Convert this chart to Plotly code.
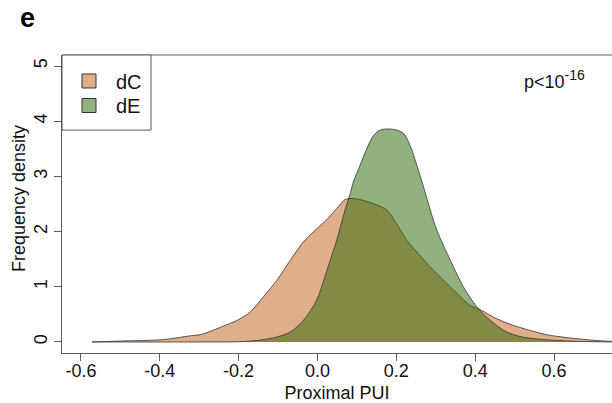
import plotly.graph_objects as go

# ---- data ----
dc_x = [-0.572, -0.483, -0.424, -0.382, -0.314, -0.297, -0.255, -0.238, -0.204, -0.171,
        -0.137, -0.103, -0.069, -0.036, -0.002, 0.024, 0.049, 0.070, 0.085, 0.108,
        0.151, 0.176, 0.201, 0.227, 0.252, 0.286, 0.320, 0.354, 0.387, 0.408,
        0.455, 0.497, 0.539, 0.582, 0.632, 0.700, 0.747]
dc_y = [0.0, 0.02, 0.03, 0.05, 0.12, 0.13, 0.24, 0.29, 0.39, 0.54,
        0.82, 1.12, 1.48, 1.81, 2.05, 2.22, 2.42, 2.58, 2.60, 2.58,
        2.48, 2.39, 2.14, 1.84, 1.63, 1.36, 1.12, 0.88, 0.66, 0.60,
        0.42, 0.30, 0.21, 0.13, 0.08, 0.03, 0.01]

de_x = [-0.572, -0.300, -0.196, -0.150, -0.103, -0.069, -0.036, -0.002, 0.024, 0.049,
        0.070, 0.083, 0.091, 0.108, 0.125, 0.142, 0.159, 0.180, 0.201, 0.218,
        0.235, 0.252, 0.269, 0.286, 0.303, 0.337, 0.370, 0.408, 0.438, 0.480,
        0.520, 0.580, 0.666, 0.747]
de_y = [0.0, 0.0, 0.005, 0.03, 0.09, 0.18, 0.39, 0.76, 1.30, 1.85,
        2.39, 2.69, 2.90, 3.20, 3.50, 3.74, 3.84, 3.86, 3.84, 3.78,
        3.56, 3.20, 2.81, 2.39, 2.02, 1.48, 1.00, 0.60, 0.39, 0.18,
        0.09, 0.04, 0.01, 0.0]

series_names = ["dC", "dE"]
x_ticks = [-0.6, -0.4, -0.2, 0.0, 0.2, 0.4, 0.6]
x_tick_labels = ["-0.6", "-0.4", "-0.2", "0.0", "0.2", "0.4", "0.6"]
y_ticks = [0, 1, 2, 3, 4, 5]
y_tick_labels = ["0", "1", "2", "3", "4", "5"]

# ---- styles ----
FONT = "Liberation Sans, Arial, Helvetica, sans-serif"
dc_fill = "rgba(195,93,25,0.5)"
de_fill = "rgba(35,101,0,0.5)"
edge = "#333333"
axis_col = "#5a5a5a"
txt = "#111111"

fig = go.Figure()
fig.add_trace(go.Scatter(x=dc_x, y=dc_y, mode="lines", fill="tozeroy",
                         fillcolor=dc_fill, line=dict(color=edge, width=0.8, shape="spline", smoothing=0.8),
                         showlegend=False, hoverinfo="skip"))
fig.add_trace(go.Scatter(x=de_x, y=de_y, mode="lines", fill="tozeroy",
                         fillcolor=de_fill, line=dict(color=edge, width=0.8, shape="spline", smoothing=0.8),
                         showlegend=False, hoverinfo="skip"))
# legend entries (one legend per entry so the spacing can match)
legend_ids = ["legend", "legend2"]
for name, col, lg in zip(series_names, [dc_fill, de_fill], legend_ids):
    fig.add_trace(go.Scatter(x=[None], y=[None], mode="markers", name=name, legend=lg,
                             marker=dict(symbol="square", size=14, color=col,
                                         line=dict(color=edge, width=1))))

leg_common = dict(xanchor="left", yanchor="middle", xref="paper", yref="paper",
                  borderwidth=0, bgcolor="rgba(0,0,0,0)",
                  font=dict(size=20, family=FONT, color=txt), itemwidth=44)

fig.update_layout(
    width=612, height=403,
    margin=dict(l=62, r=0, t=55, b=50),
    paper_bgcolor="white", plot_bgcolor="white",
    font=dict(family=FONT, size=18, color=txt),
    showlegend=True,
    legend=dict(x=0, y=0.9128, **leg_common),
    legend2=dict(x=0, y=0.8305, **leg_common),
    xaxis=dict(range=[-0.648, 0.747], tickvals=x_ticks, ticktext=x_tick_labels,
               showgrid=False, zeroline=False, showline=True, linecolor=axis_col, linewidth=1,
               ticks="outside", ticklen=7, tickcolor=axis_col, ticklabelstandoff=-6,
               title=dict(text="Proximal PUI", standoff=7, font=dict(size=18))),
    yaxis=dict(range=[-0.2, 5.2], tickvals=y_ticks, ticktext=y_tick_labels, tickangle=-90,
               showgrid=False, zeroline=False, showline=True, linecolor=axis_col, linewidth=1,
               ticks="outside", ticklen=7, tickcolor=axis_col),
    shapes=[
        dict(type="line", xref="paper", yref="paper", x0=0, x1=1, y0=1, y1=1,
             line=dict(color=axis_col, width=1)),
        dict(type="rect", xref="paper", yref="paper", x0=0, x1=0.1618, y0=0.748, y1=1,
             line=dict(color=axis_col, width=1), fillcolor="white", layer="above"),
    ],
    annotations=[
        dict(text="<b>e</b>", xref="paper", yref="paper", x=-0.0627, y=1.1258,
             xanchor="center", yanchor="middle", showarrow=False,
             font=dict(size=27, family=FONT, color="#000000")),
        dict(text="Frequency density", xref="paper", yref="paper", x=-0.0782, y=0.52,
             xanchor="center", yanchor="middle", showarrow=False, textangle=-90,
             font=dict(size=18, family=FONT, color=txt)),
        dict(text='p<10<sup><span style="font-size:14px">-16</span></sup>', xref="x", yref="y",
             x=0.684, y=4.76, xanchor="right", yanchor="middle", showarrow=False,
             font=dict(size=18, family=FONT, color=txt)),
    ],
)

fig.write_html("out.html")
